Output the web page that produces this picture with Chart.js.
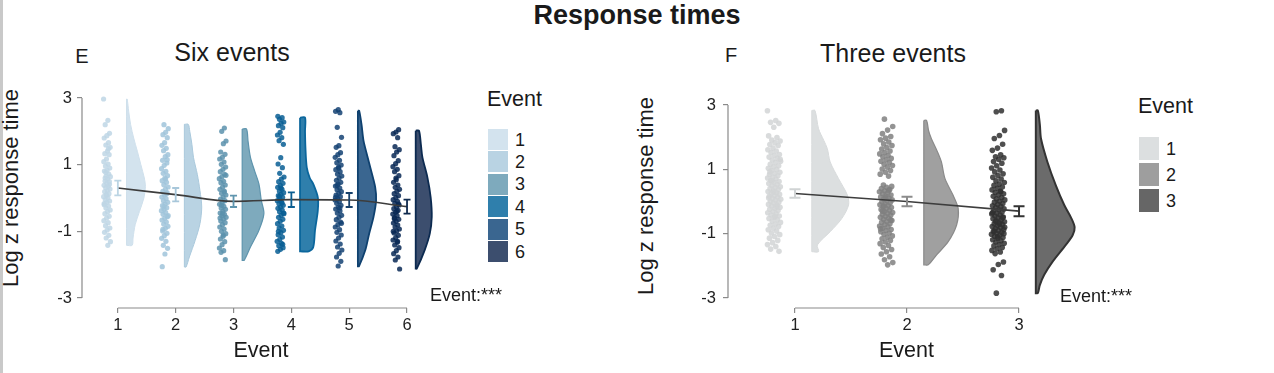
<!DOCTYPE html>
<html>
<head>
<meta charset="utf-8">
<title>Response times</title>
<script src="https://cdn.jsdelivr.net/npm/chart.js@4.4.1/dist/chart.umd.min.js"></script>
<style>
  body { margin: 0; background: #fff; font-family: 'Liberation Sans', Arial, sans-serif; color: #1a1a1a; }
  #page { position: relative; width: 1274px; height: 373px; overflow: hidden; background: #fff; }
  #edge { position: absolute; left: 0; top: 0; width: 3px; height: 373px; background: #c9c9c9; }
  .txt { position: absolute; white-space: nowrap; line-height: 1; transform: translate(-50%, -50%); }
  .left { position: absolute; white-space: nowrap; line-height: 1; transform: translate(0, -50%); }
  .ytitle { position: absolute; white-space: nowrap; line-height: 1; font-size: 22px; transform: translate(-50%, -50%) rotate(-90deg); }
  canvas { position: absolute; top: 0; }
  .sw { position: absolute; width: 20px; }
</style>
</head>
<body>
<div id="page">
  <div id="edge"></div>
  <div class="txt" style="left:637px; top:15px; font-size:27px; font-weight:bold;">Response times</div>

  <div class="txt" style="left:82px; top:56px; font-size:20px;">E</div>
  <div class="txt" style="left:232px; top:52px; font-size:25px;">Six events</div>
  <div class="ytitle" style="left:11px; top:188px;">Log z response time</div>
  <canvas id="sixChart" width="460" height="373" style="left:0px;"></canvas>
  <div class="left" style="left:487px; top:100px; font-size:21.5px;">Event</div>
  <div id="sixLegend"></div>
  <div class="left" style="left:430px; top:295px; font-size:18px;">Event:***</div>

  <div class="txt" style="left:731px; top:55px; font-size:20px;">F</div>
  <div class="txt" style="left:893px; top:53px; font-size:25px;">Three events</div>
  <div class="ytitle" style="left:646px; top:196px;">Log z response time</div>
  <canvas id="threeChart" width="460" height="373" style="left:640px;"></canvas>
  <div class="left" style="left:1138px; top:107px; font-size:21.5px;">Event</div>
  <div id="threeLegend"></div>
  <div class="left" style="left:1060px; top:296px; font-size:18px;">Event:***</div>
</div>

<script>
// ---- values ----
var sixEvents = ['1', '2', '3', '4', '5', '6'];
var threeEvents = ['1', '2', '3'];
var yTicks = [-3, -1, 1, 3];

// Six events: single log z response times per event
var six1 = [2.97, 2.33, 2.2, 1.94, 1.87, 1.8, 1.66, 1.59, 1.52, 1.41, 1.33, 1.3, 1.17, 1.09, 1.02, 0.96, 0.9, 0.83, 0.81, 0.72, 0.66, 0.64, 0.57, 0.51, 0.49, 0.44, 0.38, 0.35, 0.31, 0.27, 0.22, 0.19, 0.13, 0.1, 0.04, 0.01, -0.05, -0.09, -0.13, -0.2, -0.24, -0.3, -0.36, -0.41, -0.47, -0.55, -0.6, -0.68, -0.74, -0.83, -0.9, -0.96, -1.03, -1.12, -1.2, -1.31, -1.42, 0.6, 0.41, 0.08, -0.17, 1.48, 0.77];
var six2 = [2.2, 2.08, 1.97, 1.9, 1.81, 1.66, 1.58, 1.49, 1.42, 1.3, 1.24, 1.13, 1.05, 0.98, 0.88, 0.8, 0.74, 0.67, 0.6, 0.52, 0.47, 0.4, 0.33, 0.27, 0.2, 0.16, 0.09, 0.03, -0.02, -0.08, -0.13, -0.18, -0.23, -0.29, -0.34, -0.38, -0.44, -0.49, -0.56, -0.61, -0.66, -0.72, -0.78, -0.85, -0.91, -0.99, -1.06, -1.13, -1.21, -1.3, -1.42, -1.51, -1.68, -2.06, 0.13, -0.26, -0.53, 0.57, -0.94, 1.15];
var six3 = [2.1, 2.0, 1.71, 1.63, 1.38, 1.31, 1.22, 1.17, 1.08, 1.01, 0.93, 0.86, 0.79, 0.71, 0.64, 0.58, 0.5, 0.46, 0.39, 0.33, 0.26, 0.21, 0.14, 0.09, 0.03, -0.03, -0.08, -0.14, -0.19, -0.25, -0.3, -0.34, -0.4, -0.45, -0.49, -0.53, -0.58, -0.63, -0.69, -0.74, -0.8, -0.87, -0.93, -1.0, -1.07, -1.15, -1.23, -1.31, -1.4, -1.5, -1.58, -1.63, -1.85, -0.47, -0.6, 0.18, -0.22, 0.68, -1.11];
var six4 = [2.45, 2.41, 2.36, 2.28, 2.24, 2.17, 2.11, 1.97, 1.89, 1.81, 1.72, 1.61, 1.21, 1.02, 0.91, 0.74, 0.63, 0.57, 0.49, 0.44, 0.37, 0.32, 0.26, 0.21, 0.16, 0.11, 0.07, 0.02, -0.03, -0.08, -0.12, -0.17, -0.22, -0.27, -0.31, -0.36, -0.41, -0.47, -0.52, -0.58, -0.64, -0.7, -0.77, -0.84, -0.9, -0.97, -1.04, -1.1, -1.17, -1.24, -1.3, -1.36, -1.43, -1.49, -1.54, -1.6, -0.15, 0.05, -0.45, 0.3, -1.0, -1.39];
var six5 = [2.65, 2.6, 2.56, 2.12, 1.82, 1.57, 1.52, 1.36, 1.3, 1.22, 1.13, 1.06, 0.99, 0.93, 0.85, 0.79, 0.72, 0.66, 0.6, 0.53, 0.47, 0.42, 0.36, 0.3, 0.25, 0.19, 0.14, 0.09, 0.04, -0.01, -0.06, -0.11, -0.16, -0.22, -0.28, -0.33, -0.39, -0.45, -0.52, -0.58, -0.65, -0.72, -0.8, -0.87, -0.95, -1.03, -1.11, -1.2, -1.29, -1.38, -1.47, -1.56, -1.66, -1.77, -1.9, -2.04, 0.02, -0.3, 0.38, -0.76, 0.9];
var six6 = [2.05, 1.98, 1.93, 1.81, 1.54, 1.45, 1.38, 1.27, 1.12, 1.03, 0.94, 0.86, 0.79, 0.67, 0.55, 0.47, 0.39, 0.32, 0.26, 0.2, 0.13, 0.07, 0.01, -0.05, -0.1, -0.16, -0.21, -0.27, -0.32, -0.37, -0.43, -0.48, -0.53, -0.59, -0.64, -0.7, -0.75, -0.81, -0.87, -0.93, -0.99, -1.05, -1.12, -1.19, -1.26, -1.33, -1.41, -1.49, -1.58, -1.67, -1.77, -1.86, -2.13, -0.4, -0.62, -0.18, 0.6, -1.0, -1.3];

var sixMeans = [0.3, 0.1, -0.1, -0.05, -0.06, -0.26];
var sixCI = [0.22, 0.2, 0.17, 0.22, 0.21, 0.21];

// half-violin outlines: [log z, relative density]
var sixDens1 = [[2.97, 0.03], [2.6, 0.1], [2.2, 0.19], [1.8, 0.33], [1.4, 0.5], [1.0, 0.66], [0.6, 0.82], [0.35, 0.87], [0.0, 0.8], [-0.4, 0.6], [-0.8, 0.4], [-1.2, 0.3], [-1.42, 0.26]];
var sixDens2 = [[2.21, 0.18], [2.0, 0.25], [1.6, 0.35], [1.22, 0.42], [0.7, 0.6], [0.22, 0.72], [-0.27, 0.8], [-0.77, 0.72], [-1.27, 0.5], [-1.77, 0.23], [-2.07, 0.08]];
var sixDens3 = [[2.07, 0.2], [1.7, 0.27], [1.22, 0.38], [0.8, 0.58], [0.42, 0.77], [-0.07, 0.88], [-0.47, 1.0], [-0.97, 0.77], [-1.47, 0.38], [-1.87, 0.09]];
var sixDens4 = [[2.41, 0.23], [2.0, 0.23], [1.5, 0.25], [0.92, 0.31], [0.6, 0.45], [0.42, 0.61], [0.02, 0.82], [-0.37, 0.82], [-0.97, 0.69], [-1.47, 0.61], [-1.6, 0.4]];
var sixDens5 = [[2.62, 0.06], [2.2, 0.17], [1.72, 0.26], [1.3, 0.42], [0.92, 0.57], [0.32, 0.8], [-0.07, 0.84], [-0.57, 0.72], [-1.07, 0.52], [-1.57, 0.34], [-2.05, 0.05]];
var sixDens6 = [[2.02, 0.15], [1.6, 0.24], [1.22, 0.31], [0.62, 0.54], [0.02, 0.69], [-0.57, 0.74], [-1.07, 0.65], [-1.57, 0.41], [-2.12, 0.05]];

// Three events
var three1 = [2.82, 2.52, 2.46, 2.43, 2.31, 2.04, 1.99, 1.91, 1.88, 1.83, 1.77, 1.74, 1.66, 1.61, 1.57, 1.52, 1.46, 1.43, 1.38, 1.34, 1.29, 1.25, 1.21, 1.16, 1.11, 1.08, 1.03, 0.99, 0.96, 0.91, 0.87, 0.84, 0.8, 0.76, 0.73, 0.7, 0.66, 0.62, 0.6, 0.56, 0.53, 0.49, 0.46, 0.43, 0.4, 0.37, 0.33, 0.31, 0.27, 0.25, 0.22, 0.18, 0.16, 0.13, 0.09, 0.07, 0.04, 0.01, -0.02, -0.05, -0.09, -0.11, -0.14, -0.18, -0.21, -0.24, -0.28, -0.31, -0.35, -0.38, -0.42, -0.45, -0.49, -0.53, -0.57, -0.61, -0.65, -0.7, -0.74, -0.78, -0.83, -0.88, -0.92, -0.98, -1.03, -1.09, -1.14, -1.21, -1.28, -1.34, -1.4, -1.48, -1.55, 0.29, 0.11, -0.16, 0.64, 1.31, -0.47, 0.92];
var three2 = [2.56, 2.33, 2.22, 2.11, 2.02, 1.97, 1.92, 1.85, 1.79, 1.74, 1.68, 1.63, 1.57, 1.52, 1.48, 1.43, 1.39, 1.34, 1.3, 1.25, 1.21, 1.16, 1.12, 1.07, 1.01, 0.96, 0.91, 0.85, 0.79, 0.51, 0.47, 0.44, 0.4, 0.37, 0.33, 0.3, 0.27, 0.24, 0.2, 0.17, 0.14, 0.11, 0.08, 0.05, 0.02, -0.01, -0.04, -0.07, -0.1, -0.13, -0.16, -0.19, -0.22, -0.25, -0.28, -0.31, -0.34, -0.37, -0.4, -0.43, -0.46, -0.49, -0.52, -0.55, -0.59, -0.62, -0.65, -0.69, -0.72, -0.76, -0.79, -0.83, -0.87, -0.9, -0.94, -0.98, -1.02, -1.07, -1.11, -1.16, -1.21, -1.26, -1.31, -1.37, -1.43, -1.49, -1.56, -1.63, -1.72, -1.81, -1.9, -1.97, -0.3, -0.58, 0.12, -0.85, 0.35, -0.14];
var three3 = [2.82, 2.79, 2.21, 2.05, 1.96, 1.78, 1.66, 1.59, 1.45, 1.39, 1.36, 1.31, 1.24, 1.19, 1.11, 1.04, 0.98, 0.92, 0.86, 0.81, 0.75, 0.7, 0.64, 0.59, 0.54, 0.5, 0.45, 0.41, 0.36, 0.32, 0.28, 0.24, 0.2, 0.16, 0.12, 0.08, 0.05, 0.01, -0.02, -0.06, -0.09, -0.13, -0.16, -0.19, -0.23, -0.26, -0.29, -0.33, -0.36, -0.39, -0.42, -0.45, -0.48, -0.51, -0.54, -0.57, -0.6, -0.63, -0.66, -0.69, -0.72, -0.75, -0.78, -0.81, -0.84, -0.87, -0.9, -0.93, -0.96, -0.99, -1.02, -1.05, -1.08, -1.12, -1.15, -1.19, -1.22, -1.26, -1.3, -1.34, -1.38, -1.43, -1.47, -1.52, -1.57, -1.62, -1.88, -1.96, -2.12, -2.3, -2.85, -0.8, -0.7, -0.92, -0.5, -1.1, -0.35, 0.3, -0.62, -1.0];

var threeMeans = [0.25, 0.0, -0.3];
var threeCI = [0.13, 0.145, 0.155];

var threeDens1 = [[2.83, 0.08], [2.26, 0.17], [1.9, 0.3], [1.64, 0.39], [1.23, 0.46], [0.71, 0.67], [0.2, 0.89], [-0.11, 0.92], [-0.53, 0.75], [-0.94, 0.46], [-1.35, 0.14], [-1.56, 0.17]];
var threeDens2 = [[2.52, 0.07], [2.2, 0.12], [1.95, 0.19], [1.55, 0.34], [1.23, 0.44], [0.71, 0.53], [0.2, 0.73], [-0.22, 0.86], [-0.73, 0.82], [-1.25, 0.61], [-1.66, 0.32], [-1.97, 0.11]];
var threeDens3 = [[2.83, 0.05], [2.4, 0.1], [1.95, 0.13], [1.23, 0.29], [0.5, 0.5], [-0.11, 0.71], [-0.5, 0.88], [-0.8, 0.97], [-1.05, 0.92], [-1.35, 0.75], [-1.87, 0.42], [-2.28, 0.21], [-2.6, 0.1], [-2.85, 0.05]];

var FONT = "'Liberation Sans', Arial, sans-serif";

// vertical bar + caps at each event mean
function errorBarPlugin(means, ci, colors, cap, width) {
  return {
    id: 'errorBars',
    afterDatasetsDraw: function (chart) {
      var xs = chart.scales.x, ys = chart.scales.y, ctx = chart.ctx;
      ctx.save();
      ctx.lineWidth = width;
      means.forEach(function (m, g) {
        var x = xs.getPixelForValue(g + 1);
        var y1 = ys.getPixelForValue(m + ci[g]);
        var y2 = ys.getPixelForValue(m - ci[g]);
        ctx.strokeStyle = colors[g];
        ctx.beginPath();
        ctx.moveTo(x, y1); ctx.lineTo(x, y2);
        ctx.moveTo(x - cap, y1); ctx.lineTo(x + cap, y1);
        ctx.moveTo(x - cap, y2); ctx.lineTo(x + cap, y2);
        ctx.stroke();
      });
      ctx.restore();
    }
  };
}

// axis lines that only run between the outer ticks (offset axes look)
function axisLinePlugin(nEvents) {
  return {
    id: 'axisLines',
    beforeDatasetsDraw: function (chart) {
      var xs = chart.scales.x, ys = chart.scales.y, a = chart.chartArea, ctx = chart.ctx;
      ctx.save();
      ctx.strokeStyle = '#8a8a8a';
      ctx.lineWidth = 1.2;
      ctx.beginPath();
      ctx.moveTo(a.left, ys.getPixelForValue(yTicks[yTicks.length - 1]));
      ctx.lineTo(a.left, ys.getPixelForValue(yTicks[0]));
      ctx.moveTo(xs.getPixelForValue(1), a.bottom);
      ctx.lineTo(xs.getPixelForValue(nEvents), a.bottom);
      ctx.stroke();
      ctx.restore();
    }
  };
}

function rainPanel(id, p) {
  var datasets = [];

  // jittered raw points, left of each event
  p.points.forEach(function (vals, g) {
    datasets.push({
      type: 'scatter',
      data: vals.map(function (v, i) {
        var j = ((i * 0.618034 + g * 0.37) % 1) - 0.5;
        return { x: g + 1 + p.cloudShift + j * 2 * p.cloudHalf, y: v };
      }),
      backgroundColor: p.dotColors[g],
      borderWidth: 0,
      pointRadius: p.dotR,
      order: 3,
      clip: false
    });
  });

  // half violins, right of each event
  p.dens.forEach(function (prof, g) {
    var base = g + 1 + p.violinShift;
    var top = prof[0][0], bottom = prof[prof.length - 1][0];
    var pts = [{ x: base, y: top }];
    prof.forEach(function (d) { pts.push({ x: base + d[1] * p.violinW, y: d[0] }); });
    pts.push({ x: base, y: bottom });
    pts.push({ x: base, y: bottom });
    pts.push({ x: base, y: top });
    datasets.push({
      type: 'line',
      data: pts,
      fill: 'shape',
      backgroundColor: p.fills[g],
      borderColor: p.strokes[g],
      borderWidth: p.strokeW[g],
      pointRadius: 0,
      tension: 0.3,
      order: 2,
      clip: false
    });
  });

  // line through the means
  datasets.push({
    type: 'line',
    data: p.means.map(function (m, g) { return { x: g + 1, y: m }; }),
    borderColor: '#3d3d3d',
    borderWidth: 1.6,
    pointRadius: 0,
    fill: false,
    cubicInterpolationMode: p.smooth ? 'monotone' : 'default',
    tension: 0,
    order: 1,
    clip: false
  });

  var xTicks = p.points.map(function (v, g) { return g + 1; });

  return new Chart(document.getElementById(id), {
    type: 'scatter',
    data: { datasets: datasets },
    plugins: [axisLinePlugin(p.points.length), errorBarPlugin(p.means, p.ci, p.barColors, p.cap, p.barW)],
    options: {
      responsive: false,
      animation: false,
      events: [],
      layout: { padding: { top: p.top, right: p.right, left: 0, bottom: 0 } },
      plugins: { legend: { display: false }, tooltip: { enabled: false } },
      scales: {
        x: {
          type: 'linear',
          min: p.xMin,
          max: p.xMax,
          afterBuildTicks: function (s) { s.ticks = xTicks.map(function (v) { return { value: v }; }); },
          afterFit: function (s) { s.height = 65; },
          ticks: { color: '#222', padding: 3, font: { family: FONT, size: 16.5 }, callback: function (v) { return String(v); } },
          grid: { display: true, drawOnChartArea: false, drawTicks: true, tickLength: 5, color: '#8a8a8a', lineWidth: 1.2 },
          border: { display: false },
          title: { display: true, text: 'Event', color: '#1a1a1a', font: { family: FONT, size: 21.5 }, padding: { top: 0, bottom: 9 } }
        },
        y: {
          type: 'linear',
          min: p.yMin,
          max: 3,
          afterBuildTicks: function (s) { s.ticks = yTicks.map(function (v) { return { value: v }; }); },
          afterFit: function (s) { s.width = p.axisX; },
          ticks: { color: '#222', padding: p.yPad, font: { family: FONT, size: 16.5 }, callback: function (v) { return String(v); } },
          grid: { display: true, drawOnChartArea: false, drawTicks: true, tickLength: 5, color: '#8a8a8a', lineWidth: 1.2 },
          border: { display: false },
          title: { display: false }
        }
      }
    }
  });
}

var sixFills = ['#d3e3ee', '#b9d3e3', '#7eaabd', '#2f7fac', '#3a6690', '#3c4e6e'];
var threeFills = ['#dcdfe0', '#a0a0a0', '#6b6b6b'];

rainPanel('sixChart', {
  points: [six1, six2, six3, six4, six5, six6],
  dens: [sixDens1, sixDens2, sixDens3, sixDens4, sixDens5, sixDens6],
  means: sixMeans,
  ci: sixCI,
  smooth: true,
  dotColors: ['rgba(190,214,229,0.85)', 'rgba(160,196,218,0.85)', 'rgba(92,146,173,0.85)', 'rgba(8,94,148,0.85)', 'rgba(20,66,115,0.85)', 'rgba(8,40,85,0.85)'],
  fills: sixFills,
  strokes: ['#cfe0ec', '#aac9dc', '#5e94ad', '#0b669c', '#0f416f', '#0c2a50'],
  strokeW: [1, 1, 1.2, 1.8, 1.8, 1.8],
  barColors: ['#bcd5e4', '#a8c7da', '#5f95ae', '#0b5e91', '#17416b', '#0f2a4e'],
  cap: 3.5, barW: 1.8,
  dotR: 2.6, cloudShift: -0.187, cloudHalf: 0.06,
  violinShift: 0.15, violinW: 0.375,
  xMin: 0.38, xMax: 6.57, yMin: -3.3,
  top: 98, right: 20, axisX: 82, yPad: 5
});

rainPanel('threeChart', {
  points: [three1, three2, three3],
  dens: [threeDens1, threeDens2, threeDens3],
  means: threeMeans,
  ci: threeCI,
  smooth: false,
  dotColors: ['rgba(210,213,214,0.85)', 'rgba(128,128,128,0.85)', 'rgba(48,48,48,0.85)'],
  fills: threeFills,
  strokes: ['#d8dbdc', '#8a8a8a', '#333333'],
  strokeW: [1, 1.2, 2],
  barColors: ['#d0d3d4', '#8c8c8c', '#333333'],
  cap: 5.5, barW: 2,
  dotR: 2.8, cloudShift: -0.186, cloudHalf: 0.06,
  violinShift: 0.15, violinW: 0.357,
  xMin: 0.402, xMax: 3.589, yMin: -3.311,
  top: 105, right: 15, axisX: 88, yPad: 7
});

// legends
function buildLegend(id, labels, colors, left, top, pitch, h) {
  var box = document.getElementById(id);
  labels.forEach(function (lab, i) {
    var sw = document.createElement('div');
    sw.className = 'sw';
    sw.style.left = left + 'px';
    sw.style.top = (top + i * pitch) + 'px';
    sw.style.height = h + 'px';
    sw.style.background = colors[i];
    box.appendChild(sw);
    var t = document.createElement('div');
    t.className = 'left';
    t.style.left = (left + 27) + 'px';
    t.style.top = (top + i * pitch + h / 2) + 'px';
    t.style.fontSize = '18px';
    t.textContent = lab;
    box.appendChild(t);
  });
}
buildLegend('sixLegend', sixEvents, sixFills, 488, 129, 22.4, 21);
buildLegend('threeLegend', threeEvents, ['#dcdfe0', '#9e9e9e', '#666666'], 1139, 137, 26, 23);
</script>
</body>
</html>
